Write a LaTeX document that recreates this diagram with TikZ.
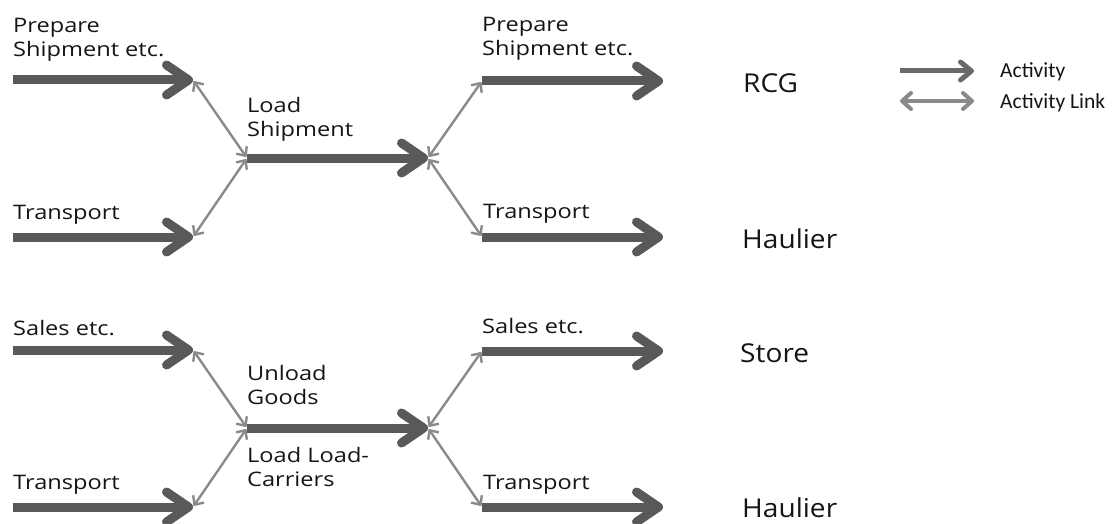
\documentclass[tikz,border=0pt]{standalone}
\usepackage{fontspec}
\setmainfont{Open Sans}
\newfontfamily\labelfont[FakeStretch=1.18]{Open Sans}
\newfontfamily\rolefont[FakeStretch=1.08]{Open Sans}
\newfontfamily\legendfont{Carlito}
\usetikzlibrary{arrows.meta}
\definecolor{actgray}{HTML}{595959}
\definecolor{lnkgray}{HTML}{8A8A8A}
\definecolor{txt}{HTML}{151515}
\begin{document}
\begin{tikzpicture}[x=1pt,y=-1pt,
  act/.style={draw=actgray, line width=9pt, -{Straight Barb[length=22pt,width=30pt,round]}},
  lnk/.style={draw=lnkgray, line width=2.4pt, shorten <=1pt, shorten >=1pt,
    {Straight Barb[length=7pt,width=13pt]}-{Straight Barb[length=7pt,width=13pt]}},
  lbl/.style={anchor=north west, inner sep=0pt, align=left, text=txt,
    font=\labelfont\fontsize{20}{24}\selectfont},
  role/.style={anchor=base west, inner sep=0pt, text=txt, font=\rolefont\fontsize{26}{30}\selectfont},
  legtxt/.style={anchor=base west, inner sep=0pt, text=txt, font=\legendfont\fontsize{21.5}{24}\selectfont},
]
\useasboundingbox[fill=white] (0,0) rectangle (1115,524);

% activity end points (top block)
\coordinate (a1s) at (13,80);   \coordinate (a1e) at (193,80);
\coordinate (a2s) at (13,237);  \coordinate (a2e) at (193,237);
\coordinate (a3s) at (247,158); \coordinate (a3e) at (428,158);
\coordinate (a4s) at (482,81);  \coordinate (a4e) at (663,81);
\coordinate (a5s) at (482,237); \coordinate (a5e) at (663,237);
% bottom block
\coordinate (b1s) at (13,350);  \coordinate (b1e) at (193,350);
\coordinate (b2s) at (13,507);  \coordinate (b2e) at (193,507);
\coordinate (b3s) at (247,428); \coordinate (b3e) at (428,428);
\coordinate (b4s) at (482,351); \coordinate (b4e) at (663,351);
\coordinate (b5s) at (482,507); \coordinate (b5e) at (663,507);

% activities
\foreach \n in {a1,a2,a3,a4,a5,b1,b2,b3,b4,b5}{\draw[act] (\n s) -- (\n e);}

% activity links
\draw[lnk] (a1e) -- (a3s);
\draw[lnk] (a2e) -- (a3s);
\draw[lnk] (a3e) -- (a4s);
\draw[lnk] (a3e) -- (a5s);
\draw[lnk] (b1e) -- (b3s);
\draw[lnk] (b2e) -- (b3s);
\draw[lnk] (b3e) -- (b4s);
\draw[lnk] (b3e) -- (b5s);

% labels
\node[lbl] (t1) at (13,18) {Prepare\\Shipment etc.};
\node[lbl] (t2) at (247,97) {Load\\Shipment};
\node[lbl] (t3) at (13,205) {Transport};
\node[lbl] (t4) at (482,17) {Prepare\\Shipment etc.};
\node[lbl] (t5) at (483,204) {Transport};
\node[lbl] (u1) at (13,320) {Sales etc.};
\node[lbl] (u2) at (247,365) {Unload\\Goods};
\node[lbl] (u3) at (247,447) {Load Load-\\Carriers};
\node[lbl] (u4) at (13,475) {Transport};
\node[lbl] (u5) at (482,318) {Sales etc.};
\node[lbl] (u6) at (483,475) {Transport};

% roles
\node[role] (r1) at (743,93) {RCG};
\node[role] (r2) at (742,248) {Haulier};
\node[role] (r3) at (740,362) {Store};
\node[role] (r4) at (742,517) {Haulier};

% legend
\coordinate (l1s) at (900,71);  \coordinate (l1e) at (974,71);
\coordinate (l2s) at (900,101); \coordinate (l2e) at (974,101);
\draw[draw=actgray!90!white, line width=5pt, -{Straight Barb[length=11pt,width=18pt,round]}] (l1s) -- (l1e);
\draw[draw=lnkgray, line width=4pt, {Straight Barb[length=9pt,width=16pt,round]}-{Straight Barb[length=9pt,width=16pt,round]}] (l2s) -- (l2e);
\node[legtxt] (lg1) at (1000,78) {Activity};
\node[legtxt] (lg2) at (1000,109) {Activity Link};
\end{tikzpicture}
\end{document}
